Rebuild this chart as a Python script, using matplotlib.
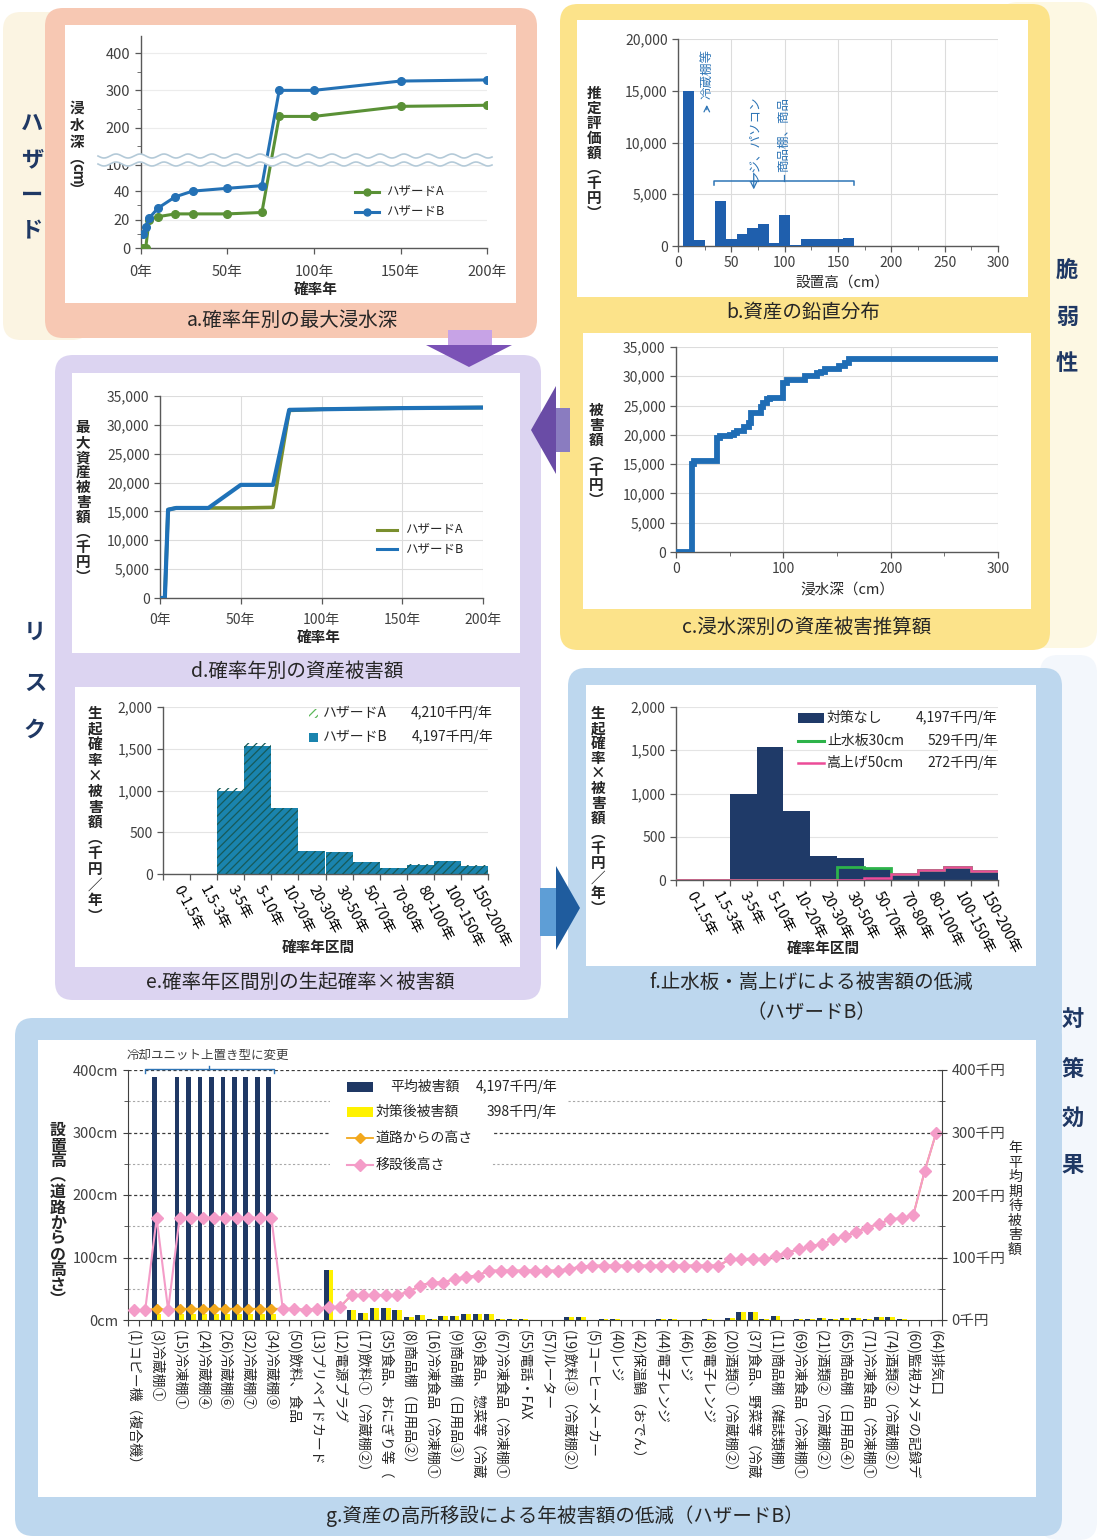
import numpy as np
import matplotlib.pyplot as plt
from matplotlib.patches import FancyBboxPatch, Polygon, Rectangle
from matplotlib.ticker import FuncFormatter

plt.rcParams['font.family'] = ['Noto Sans CJK JP', 'DejaVu Sans']
plt.rcParams['hatch.linewidth'] = 0.9

# a. 確率年別の最大浸水深
prob_years = [1.5, 3, 5, 10, 20, 30, 50, 70, 80, 100, 150, 200]
depth_hazard_a = [0, 0, 20, 22, 24, 24, 24, 25, 230, 230, 257, 260]
depth_hazard_b = [10, 15, 21, 28, 36, 40, 42, 44, 300, 300, 325, 328]

# b. 資産の鉛直分布（10cm刻み）
install_height = [10, 20, 30, 40, 50, 60, 70, 80, 90, 100, 110, 120, 130, 140, 150, 160]
asset_value = [15000, 580, 0, 4350, 680, 1130, 1770, 2130, 320, 3000, 100, 640, 700, 700, 640, 770]

# c. 浸水深別の資産被害推算額（階段）
flood_depth = [0, 15, 17, 38, 41, 50, 54, 57, 63, 68, 70, 79, 81, 85, 88, 100, 103,
               120, 131, 135, 139, 152, 157, 161, 300]
damage_by_depth = [0, 15100, 15500, 19400, 19800, 20000, 20300, 20700, 21400, 22100,
                   23700, 24700, 25500, 26100, 26300, 28800, 29400, 30100, 30500,
                   30800, 31200, 31700, 32300, 32900, 32900]

# d. 確率年別の資産被害額
damage_hazard_a = [0, 0, 15300, 15600, 15600, 15600, 15600, 15700, 32500, 32700, 32900, 33000]
damage_hazard_b = [0, 0, 15300, 15600, 15600, 15600, 19600, 19600, 32600, 32700, 32900, 33000]

# e / f. 確率年区間別の生起確率×被害額
intervals = ['0-1.5年', '1.5-3年', '3-5年', '5-10年', '10-20年', '20-30年', '30-50年',
             '50-70年', '70-80年', '80-100年', '100-150年', '150-200年']
risk_hazard_a = [0, 0, 1035, 1565, 795, 278, 262, 142, 70, 114, 154, 102]
risk_hazard_b = [0, 0, 992, 1532, 792, 272, 260, 140, 68, 112, 152, 100]
risk_board_30 = [0, 0, 0, 0, 0, 0, 150, 140, 68, 112, 152, 100]
risk_raise_50 = [0, 0, 0, 0, 0, 0, 5, 25, 68, 112, 152, 100]

# g. 資産ごとの設置高と年平均期待被害額（71品目）
height_road = [16, 16, 18, 16, 18, 18, 18, 18, 18, 18, 18, 18, 18,
               18, 18, 16, 18, 21, 21, 40, 40, 40, 40, 40, 45, 55, 60, 60, 66, 69, 71,
               79, 79, 79, 79, 79, 79, 79, 82, 85,
               87, 87, 87, 87, 87, 87, 87, 87, 87, 87, 87, 87,
               97, 97, 97, 97, 102, 108, 113, 118, 121, 129, 134, 141, 148, 154, 161, 163, 168, 239, 300]
height_moved = [16, 16, 163, 16, 164, 164, 164, 164, 164, 164, 164, 164, 164,
                18, 18, 16, 18, 21, 21, 40, 40, 40, 40, 40, 45, 55, 60, 60, 66, 69, 71,
                79, 79, 79, 79, 79, 79, 79, 82, 85,
                87, 87, 87, 87, 87, 87, 87, 87, 87, 87, 87, 87,
                97, 97, 97, 97, 102, 108, 113, 118, 121, 129, 134, 141, 148, 154, 161, 163, 168, 239, 300]
damage_avg = [0, 0, 389, 0, 389, 389, 389, 389, 389, 389, 389, 389, 389,
              0, 0, 0, 0, 80, 0, 16, 12, 19, 19, 16, 5, 8, 1.5, 6, 7, 10, 10,
              9, 2, 1.5, 1.5, 0.5, 0.5, 0, 5, 5,
              0, 1, 1, 0, 0, 0, 1, 1, 0, 0, 1, 0,
              4, 13, 13, 2, 6, 0, 1, 1, 4, 2, 4, 4, 2, 5, 5, 1, 0, 0, 0]
damage_after = [0, 0, 9, 0, 9, 9, 9, 9, 9, 9, 9, 9, 9,
                0, 0, 0, 0, 80, 0, 16, 12, 19, 19, 16, 5, 8, 1.5, 6, 7, 10, 10,
                9, 2, 1.5, 1.5, 0.5, 0.5, 0, 5, 5,
                0, 1, 1, 0, 0, 0, 1, 1, 0, 0, 1, 0,
                4, 13, 13, 2, 6, 0, 1, 1, 4, 2, 4, 4, 2, 5, 5, 1, 0, 0, 0]
asset_labels = ['(1)コピー機（複合機）', '(3)冷蔵棚①', '(15)冷凍棚①', '(24)冷蔵棚④',
                '(26)冷蔵棚⑥', '(32)冷蔵棚⑦', '(34)冷蔵棚⑨', '(50)飲料、食品',
                '(13)プリペイドカード', '(12)電源プラグ', '(17)飲料①（冷蔵棚②）',
                '(35)食品、おにぎり等（', '(8)商品棚（日用品②）', '(16)冷凍食品（冷凍棚①',
                '(9)商品棚（日用品③）', '(36)食品、惣菜等（冷蔵', '(67)冷凍食品（冷凍棚①',
                '(55)電話・FAX', '(57)ルーター', '(19)飲料③（冷蔵棚②）', '(5)コーヒーメーカー',
                '(40)レジ', '(42)保温鍋（おでん）', '(44)電子レンジ', '(46)レジ', '(48)電子レンジ',
                '(20)酒類①（冷蔵棚②）', '(37)食品、野菜等（冷蔵', '(11)商品棚（雑誌類棚）',
                '(69)冷凍食品（冷凍棚①', '(21)酒類②（冷蔵棚②）', '(65)商品棚（日用品④）',
                '(71)冷凍食品（冷凍棚①', '(74)酒類②（冷蔵棚②）', '(60)監視カメラの記録デ',
                '(64)排気口']

W, H = 1097, 1540
fig = plt.figure(figsize=(W / 100, H / 100), dpi=100)
fig.patch.set_facecolor('white')

TXT = '#262626'
TICK = '#404040'
GRID = '#DCDCDC'


def px_axes(x0, y0, x1, y1, z=1):
    ax = fig.add_axes([x0 / W, 1 - y1 / H, (x1 - x0) / W, (y1 - y0) / H], zorder=z)
    ax.set_facecolor('none')
    return ax


def canvas(z):
    ax = px_axes(0, 0, W, H, z)
    ax.set_xlim(0, W)
    ax.set_ylim(H, 0)
    ax.axis('off')
    return ax


def rbox(ax, x0, y0, x1, y1, color, r=16):
    ax.add_patch(FancyBboxPatch((x0 + r, y0 + r), x1 - x0 - 2 * r, y1 - y0 - 2 * r,
                                boxstyle=f'round,pad={r},rounding_size={r}',
                                fc=color, ec='none'))


def style(ax, size=10):
    for s in ['top', 'right']:
        ax.spines[s].set_visible(False)
    for s in ['left', 'bottom']:
        ax.spines[s].set_color('#595959')
        ax.spines[s].set_linewidth(1.0)
    ax.tick_params(labelsize=size, labelcolor=TICK, color='#595959', length=4, width=0.9)


comma = FuncFormatter(lambda v, p: f'{int(v):,}')

# ---------- background boxes ----------
bg = canvas(0)
rbox(bg, 3, 12, 90, 340, '#FBF4E2', 18)
rbox(bg, 45, 8, 537, 338, '#F7C8B3', 18)
bg.add_patch(Rectangle((65, 25), 451, 278, fc='white', ec='none'))
rbox(bg, 1000, 2, 1097, 648, '#FDF8E3', 18)
rbox(bg, 560, 4, 1050, 650, '#FCE38A', 18)
bg.add_patch(Rectangle((577, 20), 451, 277, fc='white', ec='none'))
bg.add_patch(Rectangle((583, 333), 448, 276, fc='white', ec='none'))
rbox(bg, 55, 355, 541, 1000, '#DCD4F1', 18)
bg.add_patch(Rectangle((72, 373), 448, 280, fc='white', ec='none'))
bg.add_patch(Rectangle((75, 687), 445, 280, fc='white', ec='none'))
rbox(bg, 1040, 655, 1097, 1540, '#F3F7FC', 18)
rbox(bg, 568, 668, 1062, 1045, '#BDD7EE', 18)
rbox(bg, 15, 1018, 1062, 1536, '#BDD7EE', 18)
bg.add_patch(Rectangle((586, 685), 450, 281, fc='white', ec='none'))
bg.add_patch(Rectangle((38, 1040), 998, 457, fc='white', ec='none'))

# arrows between panels
bg.add_patch(Polygon([(448, 330), (492, 330), (492, 345), (448, 345)], fc='#C7A3E6', ec='none'))
bg.add_patch(Polygon([(426, 345), (512, 345), (469, 367)], fc='#7B52B6', ec='none'))
bg.add_patch(Polygon([(556, 408), (570, 408), (570, 452), (556, 452)], fc='#8A7CC0', ec='none'))
bg.add_patch(Polygon([(531, 430), (556, 386), (556, 474)], fc='#6A4CA6', ec='none'))
bg.add_patch(Polygon([(540, 888), (556, 888), (556, 936), (540, 936)], fc='#5E9ED6', ec='none'))
bg.add_patch(Polygon([(556, 866), (556, 950), (580, 908)], fc='#1F5C9E', ec='none'))

# ---------- a. 確率年別の最大浸水深 ----------
def fwd(v):
    v = np.asarray(v, float)
    return np.where(v < 43.8, 1.42 * v, 45.9 + 0.372 * v)


def inv(t):
    t = np.asarray(t, float)
    return np.where(t < 62.2, t / 1.42, (t - 45.9) / 0.372)


ax_a = px_axes(140.5, 36, 487.3, 248)
ax_a.set_yscale('function', functions=(fwd, inv))
ax_a.plot(prob_years, depth_hazard_a, color='#5A9136', lw=2.2, marker='o', ms=5.5, zorder=3)
ax_a.plot(prob_years, depth_hazard_b, color='#2471B5', lw=2.2, marker='o', ms=5.5, zorder=4)
ax_a.set_xlim(0, 200)
ax_a.set_ylim(0, 446)
ax_a.set_xticks([0, 50, 100, 150, 200], ['0年', '50年', '100年', '150年', '200年'])
ax_a.set_yticks([0, 20, 40, 100, 200, 300, 400])
ax_a.set_yticks([10, 30, 150, 250, 350], minor=True)
ax_a.grid(axis='y', color='#ECECEC', lw=0.8, zorder=0)
style(ax_a, 10.5)
ax_a.tick_params(axis='x', pad=8)
ax_a.tick_params(which='minor', length=3, color='#595959')

# ---------- b. 資産の鉛直分布 ----------
ax_b = px_axes(678, 39, 998, 246)
ax_b.bar(install_height, asset_value, width=10, color='#1F5FAD', zorder=3)
ax_b.set_xlim(0, 300)
ax_b.set_ylim(0, 20000)
ax_b.set_xticks(range(0, 301, 50))
ax_b.set_xticks(range(25, 300, 50), minor=True)
ax_b.set_yticks(range(0, 20001, 5000))
ax_b.yaxis.set_major_formatter(comma)
ax_b.grid(color=GRID, lw=0.8, zorder=0)
style(ax_b, 10)
ax_b.tick_params(which='minor', length=3, color='#595959')
note = '#2E75B6'
ax_b.text(27, 16600, '冷蔵棚等', rotation=90, ha='center', va='center', fontsize=9, color=note)
ax_b.annotate('', xy=(27, 13900), xytext=(27, 12900),
              arrowprops=dict(arrowstyle='->', color=note, lw=0.9))
ax_b.text(70, 10400, 'レジ、パソコン', rotation=90, ha='center', va='center', fontsize=9, color=note)
ax_b.annotate('', xy=(71, 5200), xytext=(71, 7300),
              arrowprops=dict(arrowstyle='->', color=note, lw=0.9))
ax_b.text(99, 10800, '商品棚、商品', rotation=90, ha='center', va='center', fontsize=9, color=note)
ax_b.plot([99, 99], [6250, 6900], color=note, lw=0.9)
ax_b.plot([34, 34, 165, 165], [5900, 6250, 6250, 5900], color=note, lw=1.1)

# ---------- c. 浸水深別の資産被害推算額 ----------
ax_c = px_axes(676, 347, 998, 552)
ax_c.plot(flood_depth, damage_by_depth, drawstyle='steps-post', color='#1F6DB5', lw=4.2,
          solid_joinstyle='miter', zorder=3)
ax_c.set_xlim(0, 300)
ax_c.set_ylim(0, 35000)
ax_c.set_xticks([0, 100, 200, 300])
ax_c.set_xticks([50, 150, 250], minor=True)
ax_c.set_yticks(range(0, 35001, 5000))
ax_c.yaxis.set_major_formatter(comma)
ax_c.grid(color=GRID, lw=0.8, zorder=0)
style(ax_c, 10)
ax_c.tick_params(which='minor', length=3, color='#595959')

# ---------- d. 確率年別の資産被害額 ----------
ax_d = px_axes(160, 396, 483, 598)
ax_d.plot(prob_years, damage_hazard_a, color='#7A8F2E', lw=2.6, zorder=3)
ax_d.plot(prob_years, damage_hazard_b, color='#1F72B8', lw=3.0, zorder=4)
ax_d.set_xlim(0, 200)
ax_d.set_ylim(0, 35000)
ax_d.set_xticks([0, 50, 100, 150, 200], ['0年', '50年', '100年', '150年', '200年'])
ax_d.set_yticks(range(0, 35001, 5000))
ax_d.yaxis.set_major_formatter(comma)
ax_d.grid(color=GRID, lw=0.8, zorder=0)
style(ax_d, 10)
ax_d.tick_params(axis='x', pad=7)

# ---------- e. 確率年区間別の生起確率×被害額 ----------
centers = np.arange(len(intervals)) + 0.5


def interval_axis(ax):
    ax.set_xlim(0, len(intervals))
    ax.set_ylim(0, 2000)
    ax.set_xticks(np.arange(len(intervals) + 1))
    ax.set_xticklabels([])
    ax.set_xticks(centers, minor=True)
    ax.set_xticklabels(intervals, minor=True, rotation=-62, ha='left', va='center',
                       rotation_mode='anchor')
    ax.set_yticks(range(0, 2001, 500))
    ax.yaxis.set_major_formatter(comma)
    ax.grid(axis='y', color='#E4E4E4', lw=0.8, zorder=0)
    style(ax, 10)
    ax.tick_params(axis='x', which='minor', length=0, pad=9, labelsize=10.5)


ax_e = px_axes(163, 707, 488, 874)
ax_e.bar(centers, risk_hazard_b, width=1, color='#1A84AE', zorder=2)
ax_e.bar(centers, risk_hazard_a, width=1, facecolor='none', edgecolor='#175A58',
         lw=0, hatch='////', zorder=3)
interval_axis(ax_e)

# ---------- f. 止水板・嵩上げによる被害額の低減 ----------
ax_f = px_axes(676, 707, 998, 880)
ax_f.bar(centers, risk_hazard_b, width=1, color='#1F3A68', zorder=2)
edges = np.arange(len(intervals) + 1)
ax_f.stairs(risk_board_30, edges, baseline=None, color='#2DB34A', lw=2.0, zorder=3)
ax_f.stairs(risk_raise_50, edges, baseline=None, color='#EC4C98', lw=1.8, zorder=4)
interval_axis(ax_f)

# ---------- g. 資産の高所移設による年被害額の低減 ----------
idx = np.arange(len(height_moved))
ax_g = px_axes(128, 1070, 942, 1320)
for v in [100, 200, 300, 400]:
    ax_g.axhline(v, color='#3A3A3A', lw=0.9, ls=(0, (2.5, 2)), zorder=0.5)
for v in [50, 150, 250, 350]:
    ax_g.axhline(v, color='#A8A8A8', lw=0.8, ls=(0, (2, 2)), zorder=0.5)
ax_g.bar(idx - 0.22, damage_avg, width=0.42, color='#1F3864', zorder=2)
ax_g.bar(idx + 0.2, damage_after, width=0.42, color='#FFF200', zorder=2)
ax_g.plot(idx, height_road, color='#F2A81D', lw=1.3, marker='D', ms=5, zorder=3)
ax_g.plot(idx, height_moved, color='#F49CC8', lw=1.5, marker='D', ms=6.5, zorder=4)
ax_g.set_xlim(-0.5, len(idx) - 0.5)
ax_g.set_ylim(0, 400)
ax_g.set_xticks(np.arange(-0.5, len(idx), 1))
ax_g.set_xticklabels([])
ax_g.set_xticks(idx[::2], minor=True)
ax_g.set_xticklabels(asset_labels, minor=True, rotation=-90, ha='center', va='top', fontsize=10)
ax_g.tick_params(axis='x', which='minor', length=0, pad=7, labelcolor=TXT)
ax_g.tick_params(axis='x', which='major', length=4, color='#404040')
ax_g.set_yticks(range(0, 401, 100), [f'{v}cm' for v in range(0, 401, 100)])
ax_g.set_yticks(range(50, 400, 100), minor=True)
ax_g.tick_params(axis='y', which='both', labelsize=10.5, labelcolor=TICK, color='#404040')
ax_g.tick_params(axis='y', which='minor', length=3)
for s in ['top', 'right']:
    ax_g.spines[s].set_visible(False)
ax_g.spines['left'].set_color('#404040')
ax_g.spines['bottom'].set_color('#404040')
ax_g.plot([1.0, 1.0, 12.2, 12.2], [396, 401, 401, 396], color='#2E75B6', lw=1.0, clip_on=False, zorder=5)
ax_g.plot([6.6, 6.6], [401, 407], color='#2E75B6', lw=1.0, clip_on=False, zorder=5)

ax_g2 = ax_g.twinx()
ax_g2.set_ylim(0, 400)
ax_g2.set_yticks(range(0, 401, 100), [f'{v}千円' for v in range(0, 401, 100)])
ax_g2.set_yticks(range(50, 400, 100), minor=True)
ax_g2.tick_params(axis='y', which='both', labelsize=10.5, labelcolor=TICK, color='#404040',
                  direction='inout')
ax_g2.tick_params(axis='y', which='major', length=7)
ax_g2.tick_params(axis='y', which='minor', length=5)
for s in ['top', 'left', 'bottom']:
    ax_g2.spines[s].set_visible(False)
ax_g2.spines['right'].set_color('#404040')

# ---------- texts and legends ----------
ov = canvas(10)


def stack(x, ys, tokens, size=10.5, weight='bold', color=TXT):
    for y, tok in zip(ys, tokens):
        rot = -90 if tok.isascii() and tok.isalpha() else 0
        ov.text(x, y, tok, ha='center', va='center', fontsize=size,
                fontweight=weight, color=color, rotation=rot)


def column(y0, step, n):
    return [y0 + i * step for i in range(n)]


section = '#1F3864'
for y, ch in zip([123, 160, 195, 231], 'ハザード'):
    ov.text(32, y, ch, ha='center', va='center', fontsize=16, fontweight='bold', color=section)
for y, ch in zip([270, 317, 364], '脆弱性'):
    ov.text(1067, y, ch, ha='center', va='center', fontsize=16, fontweight='bold', color=section)
for y, ch in zip([632, 683, 730], 'リスク'):
    ov.text(35, y, ch, ha='center', va='center', fontsize=16, fontweight='bold', color=section)
for y, ch in zip([1019, 1069, 1118, 1166], '対策効果'):
    ov.text(1073, y, ch, ha='center', va='center', fontsize=16, fontweight='bold', color=section)

# wavy break on the depth axis
xs = np.linspace(98, 492, 500)
wave = 156 + 2.0 * np.sin(2 * np.pi * (xs - 98) / 24)
ov.fill_between(xs, wave, wave + 8, color='white', lw=0)
ov.plot(xs, wave, color='#B4CAD8', lw=1.2)
ov.plot(xs, wave + 8, color='#B4CAD8', lw=1.2)

# panel titles
title_kw = dict(ha='center', va='center', fontsize=14, color=TXT)
ov.text(292, 320, 'a.確率年別の最大浸水深', **title_kw)
ov.text(803, 313, 'b.資産の鉛直分布', **title_kw)
ov.text(807, 627, 'c.浸水深別の資産被害推算額', **title_kw)
ov.text(297, 671, 'd.確率年別の資産被害額', **title_kw)
ov.text(300, 982, 'e.確率年区間別の生起確率×被害額', **title_kw)
ov.text(811, 982, 'f.止水板・嵩上げによる被害額の低減', **title_kw)
ov.text(811, 1013, '（ハザードB）', **title_kw)
ov.text(565, 1516, 'g.資産の高所移設による年被害額の低減（ハザードB）', **title_kw)

# axis titles
ov.text(316, 289, '確率年', ha='center', va='center', fontsize=10.5, fontweight='bold', color=TXT)
ov.text(842, 283, '設置高（cm）', ha='center', va='center', fontsize=10.5, color=TXT)
ov.text(847, 590, '浸水深（cm）', ha='center', va='center', fontsize=10.5, color=TXT)
ov.text(319, 637, '確率年', ha='center', va='center', fontsize=10.5, fontweight='bold', color=TXT)
ov.text(318, 947, '確率年区間', ha='center', va='center', fontsize=10.5, fontweight='bold', color=TXT)
ov.text(823, 948, '確率年区間', ha='center', va='center', fontsize=10.5, fontweight='bold', color=TXT)

stack(77, [108, 125, 142, 158, 174, 190], ['浸', '水', '深', '︵', 'cm', '︶'])
stack(594, column(93, 15, 9), ['推', '定', '評', '価', '額', '︵', '千', '円', '︶'])
stack(596, column(410, 15, 7), ['被', '害', '額', '︵', '千', '円', '︶'])
stack(83, column(427, 15, 11), ['最', '大', '資', '産', '被', '害', '額', '︵', '千', '円', '︶'])
risk_label = ['生', '起', '確', '率', '×', '被', '害', '額', '︵', '千', '円', '／', '年', '︶']
stack(95, column(713, 15.6, 14), risk_label)
stack(598, column(713, 15, 14), risk_label)
stack(58, column(1130, 15.5, 12),
      ['設', '置', '高', '︵', '道', '路', 'か', 'ら', 'の', '高', 'さ', '︶'], size=11.5)
stack(1015, column(1148, 14.5, 8), list('年平均期待被害額'), size=10, weight='normal')

# legend a
for y, c, lab in [(192, '#5A9136', 'ハザードA'), (212, '#2471B5', 'ハザードB')]:
    ov.plot([355, 379], [y, y], color=c, lw=2.2)
    ov.plot([367], [y], color=c, marker='o', ms=5)
    ov.text(386, y, lab, ha='left', va='center', fontsize=9, color=TXT)

# legend d
for y, c, lab in [(530, '#7A8F2E', 'ハザードA'), (549, '#1F72B8', 'ハザードB')]:
    ov.plot([377, 397], [y, y], color=c, lw=2.2)
    ov.text(405, y, lab, ha='left', va='center', fontsize=9, color=TXT)

# legend e
ov.add_patch(Rectangle((309, 709), 9, 9, fc='white', ec='#5DB85A', lw=0, hatch='////'))
ov.add_patch(Rectangle((309, 733), 9, 9, fc='#1A84AE', ec='none'))
ov.text(323, 713, 'ハザードA', ha='left', va='center', fontsize=10, color=TXT)
ov.text(323, 737, 'ハザードB', ha='left', va='center', fontsize=10, color=TXT)
ov.text(493, 713, '4,210千円/年', ha='right', va='center', fontsize=10, color=TXT)
ov.text(493, 737, '4,197千円/年', ha='right', va='center', fontsize=10, color=TXT)

# legend f
ov.add_patch(Rectangle((798, 713), 26, 10, fc='#1F3A68', ec='none'))
ov.plot([798, 824], [741, 741], color='#2DB34A', lw=2.2)
ov.plot([798, 824], [763, 763], color='#EC4C98', lw=1.8)
for y, lab, val in [(718, '対策なし', '4,197千円/年'), (741, '止水板30cm', '529千円/年'),
                    (763, '嵩上げ50cm', '272千円/年')]:
    ov.text(827, y, lab, ha='left', va='center', fontsize=10, color=TXT)
    ov.text(998, y, val, ha='right', va='center', fontsize=10, color=TXT)

# legend g
ov.add_patch(Rectangle((330, 1077), 237, 48, fc='white', ec='none'))
ov.add_patch(Rectangle((330, 1125), 162, 52, fc='white', ec='none'))
ov.add_patch(Rectangle((347, 1082), 26, 10, fc='#1F3864', ec='none'))
ov.add_patch(Rectangle((347, 1107), 26, 10, fc='#FFF200', ec='none'))
ov.plot([347, 373], [1138, 1138], color='#F2A81D', lw=1.3)
ov.plot([360], [1138], color='#F2A81D', marker='D', ms=5)
ov.plot([347, 373], [1165, 1165], color='#F49CC8', lw=1.5)
ov.plot([360], [1165], color='#F49CC8', marker='D', ms=6)
ov.text(390, 1087, '平均被害額', ha='left', va='center', fontsize=10, color=TXT)
ov.text(557, 1087, '4,197千円/年', ha='right', va='center', fontsize=10, color=TXT)
ov.text(376, 1112, '対策後被害額', ha='left', va='center', fontsize=10, color=TXT)
ov.text(557, 1112, '398千円/年', ha='right', va='center', fontsize=10, color=TXT)
ov.text(376, 1138, '道路からの高さ', ha='left', va='center', fontsize=10, color=TXT)
ov.text(376, 1165, '移設後高さ', ha='left', va='center', fontsize=10, color=TXT)
ov.text(127, 1055, '冷却ユニット上置き型に変更', ha='left', va='center', fontsize=9, color='#404040')

fig.savefig('out.png', dpi=100)
